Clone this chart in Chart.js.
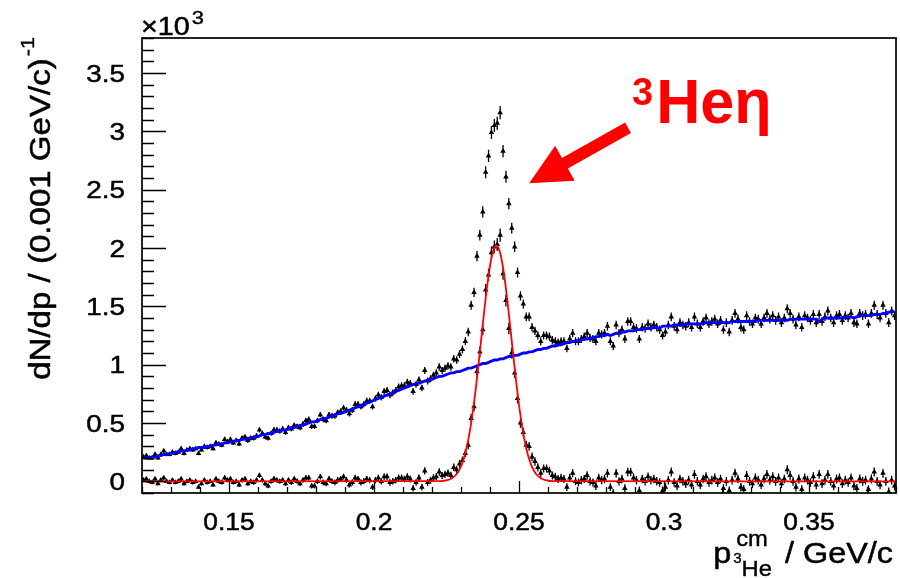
<!DOCTYPE html>
<html>
<head>
<meta charset="utf-8">
<script src="https://cdn.jsdelivr.net/npm/chart.js@4.4.1/dist/chart.umd.min.js"></script>
<style>
html,body{margin:0;padding:0;background:#fff;}
#wrap{width:900px;height:578px;position:relative;}
canvas{display:block;}
</style>
</head>
<body>
<div id="wrap"><canvas id="c" width="900" height="578"></canvas></div>
<script>
// ---------- DATA (values in units of 10^3 counts per 0.001 GeV/c) ----------
const binLow = 0.120;      // lower edge of first bin (GeV/c)
const binWidth = 0.001;    // bin width (GeV/c)

// measured spectrum (all events)
const totalCounts = [
0.21,0.22,0.20,0.20,0.23,0.20,0.23,0.26,0.23,0.23,
0.25,0.24,0.25,0.28,0.24,0.27,0.28,0.27,0.28,0.24,
0.27,0.30,0.29,0.30,0.28,0.33,0.32,0.31,0.36,0.34,
0.36,0.33,0.35,0.32,0.37,0.38,0.35,0.37,0.37,0.39,
0.44,0.41,0.38,0.37,0.41,0.44,0.44,0.43,0.45,0.42,
0.46,0.45,0.48,0.47,0.46,0.49,0.52,0.53,0.47,0.47,
0.52,0.57,0.53,0.52,0.57,0.56,0.56,0.59,0.60,0.63,
0.61,0.58,0.61,0.66,0.66,0.64,0.66,0.69,0.69,0.64,
0.71,0.74,0.72,0.77,0.78,0.74,0.76,0.78,0.81,0.82,
0.82,0.85,0.84,0.77,0.83,0.87,0.80,0.95,0.86,0.88,
0.91,0.93,0.98,0.95,0.97,0.99,0.98,1.05,1.04,1.09,
1.13,1.20,1.28,1.51,1.62,1.93,2.11,2.31,2.65,2.79,
2.99,3.05,3.07,3.16,2.83,2.61,2.38,2.17,2.01,1.79,
1.59,1.52,1.41,1.41,1.32,1.29,1.25,1.20,1.25,1.25,
1.24,1.21,1.20,1.19,1.20,1.20,1.14,1.22,1.27,1.20,
1.20,1.22,1.24,1.27,1.23,1.22,1.20,1.27,1.26,1.27,
1.33,1.20,1.16,1.34,1.27,1.30,1.22,1.37,1.37,1.32,
1.31,1.22,1.32,1.31,1.35,1.32,1.34,1.32,1.30,1.25,
1.28,1.34,1.41,1.33,1.30,1.36,1.34,1.33,1.36,1.32,
1.41,1.35,1.32,1.37,1.40,1.35,1.37,1.39,1.35,1.38,
1.30,1.36,1.28,1.38,1.44,1.39,1.32,1.30,1.42,1.37,
1.35,1.40,1.39,1.35,1.40,1.44,1.39,1.42,1.38,1.41,
1.36,1.40,1.48,1.44,1.39,1.34,1.41,1.32,1.42,1.40,
1.38,1.43,1.36,1.43,1.37,1.41,1.46,1.40,1.36,1.42,
1.43,1.38,1.42,1.40,1.44,1.36,1.35,1.44,1.42,1.43,
1.35,1.44,1.51,1.43,1.40,1.51,1.44,1.36,1.46,1.42
];

// background-subtracted spectrum
const subtracted = [
0.01,0.02,0.00,-0.01,0.02,-0.02,0.01,0.03,0.00,-0.01,
0.01,-0.01,0.00,0.02,-0.02,0.00,0.01,-0.01,0.00,-0.05,
-0.02,0.01,-0.01,0.00,-0.03,0.02,0.00,-0.01,0.03,0.01,
0.02,-0.01,0.00,-0.03,0.01,0.02,-0.02,0.00,-0.01,0.01,
0.05,0.01,-0.02,-0.04,0.00,0.02,0.01,0.00,0.01,-0.02,
0.01,-0.01,0.02,0.00,-0.02,0.01,0.03,0.03,-0.04,-0.04,
0.00,0.04,-0.01,-0.02,0.02,0.00,-0.01,0.01,0.02,0.04,
0.01,-0.03,-0.01,0.03,0.02,-0.01,0.00,0.02,0.01,-0.05,
0.01,0.03,0.00,0.04,0.04,-0.01,0.00,0.01,0.03,0.03,
0.02,0.04,0.02,-0.06,-0.01,0.03,-0.05,0.09,-0.01,0.01,
0.03,0.04,0.08,0.05,0.06,0.07,0.05,0.12,0.10,0.15,
0.18,0.24,0.31,0.54,0.64,0.94,1.11,1.30,1.64,1.77,
1.96,2.01,2.03,2.11,1.78,1.55,1.31,1.10,0.93,0.71,
0.50,0.42,0.31,0.30,0.21,0.17,0.12,0.07,0.11,0.11,
0.09,0.05,0.04,0.02,0.03,0.02,-0.05,0.03,0.07,0.00,
-0.01,0.01,0.02,0.05,0.00,-0.01,-0.04,0.03,0.01,0.02,
0.07,-0.05,-0.10,0.07,0.00,0.02,-0.06,0.08,0.08,0.03,
0.01,-0.08,0.02,0.00,0.04,0.01,0.02,0.00,-0.01,-0.08,
-0.05,0.01,0.08,-0.01,-0.04,0.02,0.00,-0.02,0.01,-0.03,
0.06,0.00,-0.03,0.02,0.04,-0.01,0.01,0.03,-0.01,0.02,
-0.06,0.00,-0.08,0.01,0.07,0.02,-0.05,-0.07,0.05,0.00,
-0.02,0.03,0.01,-0.03,0.02,0.06,0.01,0.04,0.00,0.03,
-0.02,0.02,0.10,0.05,0.00,-0.05,0.02,-0.07,0.03,0.01,
-0.01,0.04,-0.03,0.06,-0.02,0.01,0.06,0.00,-0.04,0.02,
0.03,-0.02,0.01,-0.01,0.03,-0.04,-0.06,0.02,0.00,0.01,
-0.07,0.02,0.08,0.00,-0.03,0.07,0.00,-0.09,0.01,-0.04
];

// background description (blue curve)
const background = [
0.20,0.20,0.20,0.21,0.21,0.22,0.22,0.23,0.23,0.24,
0.24,0.25,0.25,0.26,0.26,0.27,0.27,0.28,0.28,0.29,
0.29,0.29,0.30,0.30,0.31,0.31,0.32,0.32,0.33,0.33,
0.34,0.34,0.35,0.35,0.36,0.36,0.37,0.37,0.38,0.38,
0.39,0.40,0.40,0.41,0.41,0.42,0.43,0.43,0.44,0.44,
0.45,0.46,0.46,0.47,0.48,0.48,0.49,0.50,0.51,0.51,
0.52,0.53,0.54,0.54,0.55,0.56,0.57,0.58,0.58,0.59,
0.60,0.61,0.62,0.63,0.64,0.65,0.66,0.67,0.68,0.69,
0.70,0.71,0.72,0.73,0.74,0.75,0.76,0.77,0.78,0.79,
0.80,0.81,0.82,0.83,0.84,0.84,0.85,0.86,0.87,0.87,
0.88,0.89,0.90,0.90,0.91,0.92,0.93,0.93,0.94,0.94,
0.95,0.96,0.97,0.97,0.98,0.99,1.00,1.01,1.01,1.02,
1.03,1.04,1.04,1.05,1.05,1.06,1.07,1.07,1.08,1.08,
1.09,1.10,1.10,1.11,1.11,1.12,1.13,1.13,1.14,1.14,
1.15,1.16,1.16,1.17,1.17,1.18,1.19,1.19,1.20,1.20,
1.21,1.21,1.22,1.22,1.23,1.23,1.24,1.24,1.25,1.25,
1.26,1.25,1.26,1.27,1.27,1.28,1.28,1.29,1.29,1.29,
1.30,1.30,1.30,1.31,1.31,1.31,1.32,1.32,1.31,1.33,
1.33,1.33,1.33,1.34,1.34,1.34,1.34,1.35,1.35,1.35,
1.35,1.35,1.35,1.35,1.36,1.36,1.36,1.36,1.36,1.36,
1.36,1.36,1.36,1.37,1.37,1.37,1.37,1.37,1.37,1.37,
1.37,1.37,1.38,1.38,1.38,1.38,1.38,1.38,1.38,1.38,
1.38,1.38,1.38,1.39,1.39,1.39,1.39,1.39,1.39,1.39,
1.39,1.39,1.39,1.37,1.39,1.40,1.40,1.40,1.40,1.40,
1.40,1.40,1.41,1.41,1.41,1.40,1.41,1.42,1.42,1.42,
1.42,1.42,1.43,1.43,1.43,1.44,1.44,1.45,1.45,1.46
];

// Gaussian fit to the subtracted peak (red curve)
const fitX = [0.1200,
0.2222,0.2232,0.2242,0.2252,0.2262,0.2272,0.2282,0.2292,0.2302,0.2312,
0.2322,0.2332,0.2342,0.2352,0.2362,0.2372,0.2382,0.2392,0.2402,0.2412,
0.2422,
0.2432,0.2442,0.2452,0.2462,0.2472,0.2482,0.2492,0.2502,0.2512,0.2522,
0.2532,0.2542,0.2552,0.2562,0.2572,0.2582,0.2592,0.2602,0.2612,0.2622,
0.3800];
const fitY = [0,
0.001,0.002,0.005,0.010,0.018,0.032,0.054,0.089,0.141,0.216,
0.318,0.452,0.619,0.816,1.038,1.272,1.503,1.710,1.876,1.983,
2.020,
1.983,1.876,1.710,1.503,1.272,1.038,0.816,0.619,0.452,0.318,
0.216,0.141,0.089,0.054,0.032,0.018,0.010,0.005,0.002,0.001,
0];

const xTicks = [0.15, 0.2, 0.25, 0.3, 0.35];
const yTicks = [0, 0.5, 1, 1.5, 2, 2.5, 3, 3.5];
const xRange = [0.12, 0.38];
const yRange = [-0.1, 3.8];

// annotation anchor points (data coordinates)
const arrowTail = {x: 0.2876, y: 3.03};
const arrowTip  = {x: 0.2535, y: 2.555};
const peakLabel = {x: 0.2890, y: 3.070};

// ---------- derived ----------
const binCenters = totalCounts.map((_, i) => +(binLow + binWidth * (i + 0.5)).toFixed(4));
const statErr = i => Math.sqrt(Math.max(totalCounts[i], 0) * 1000) / 1000;
const pts = arr => arr.map((v, i) => ({x: binCenters[i], y: v}));

const FONT = '"Liberation Sans", Arial, Helvetica, sans-serif';

function stretchedText(ctx, txt, x, y, size, sx, align, baseline, weight, heavy) {
  ctx.save();
  ctx.font = (weight ? weight + ' ' : '') + size + 'px ' + FONT;
  ctx.textAlign = align || 'left';
  ctx.textBaseline = baseline || 'alphabetic';
  ctx.translate(x, y);
  ctx.scale(sx, 1);
  ctx.fillText(txt, 0, 0);
  if (heavy) {
    ctx.lineWidth = heavy;
    ctx.strokeStyle = ctx.fillStyle;
    ctx.strokeText(txt, 0, 0);
  }
  ctx.restore();
}
function textW(ctx, txt, size, sx, weight) {
  ctx.save();
  ctx.font = (weight ? weight + ' ' : '') + size + 'px ' + FONT;
  const w = ctx.measureText(txt).width * sx;
  ctx.restore();
  return w;
}

const errorBars = {
  id: 'errorBars',
  beforeDatasetsDraw(chart) {
    const {ctx, chartArea: a, scales: {x, y}} = chart;
    ctx.save();
    ctx.beginPath();
    ctx.rect(a.left, a.top, a.right - a.left, a.bottom - a.top);
    ctx.clip();
    ctx.strokeStyle = '#000';
    ctx.lineWidth = 1.3;
    ctx.beginPath();
    [totalCounts, subtracted].forEach(arr => arr.forEach((v, i) => {
      const e = statErr(i);
      const px = x.getPixelForValue(binCenters[i]);
      const py = y.getPixelForValue(v);
      ctx.moveTo(px, y.getPixelForValue(v - e));
      ctx.lineTo(px, y.getPixelForValue(v + e));
      ctx.moveTo(x.getPixelForValue(binCenters[i] - binWidth / 2), py);
      ctx.lineTo(x.getPixelForValue(binCenters[i] + binWidth / 2), py);
    }));
    ctx.stroke();
    ctx.restore();
  }
};

const rootDecor = {
  id: 'rootDecor',
  afterDraw(chart) {
    const {ctx, chartArea: a, scales: {x, y}} = chart;
    ctx.save();
    ctx.fillStyle = '#000';
    ctx.strokeStyle = '#000';

    // ticks
    ctx.lineWidth = 1.3;
    ctx.beginPath();
    const yMinor = (yTicks[1] - yTicks[0]) / 5;
    for (let m = Math.ceil(yRange[0] / yMinor - 1e-6); m * yMinor <= yRange[1] + 1e-6; m++) {
      const v = m * yMinor;
      const isMajor = yTicks.some(t => Math.abs(t - v) < 1e-6);
      const py = Math.round(y.getPixelForValue(v)) + 0.5;
      ctx.moveTo(a.left, py);
      ctx.lineTo(a.left + (isMajor ? 24 : 12), py);
    }
    const xMinor = (xTicks[1] - xTicks[0]) / 5;
    for (let m = Math.ceil(xRange[0] / xMinor - 1e-6); m * xMinor <= xRange[1] + 1e-6; m++) {
      const v = m * xMinor;
      const isMajor = xTicks.some(t => Math.abs(t - v) < 1e-6);
      const px = Math.round(x.getPixelForValue(v)) + 0.5;
      ctx.moveTo(px, a.bottom);
      ctx.lineTo(px, a.bottom - (isMajor ? 12 : 6));
    }
    ctx.stroke();

    // frame
    ctx.lineWidth = 1.7;
    ctx.strokeRect(a.left, a.top, a.right - a.left, a.bottom - a.top);

    // tick labels
    yTicks.forEach(v => {
      stretchedText(ctx, String(v), a.left - 17, y.getPixelForValue(v) + 8.5, 24, 1.16, 'right', 'alphabetic', '', 0.5);
    });
    xTicks.forEach(v => {
      stretchedText(ctx, String(v), x.getPixelForValue(v), 530, 24, 1.1, 'center', 'alphabetic', '', 0.5);
    });

    // exponent label
    stretchedText(ctx, '\u00d710', a.left - 1, 35, 25, 1.15, 'left', 'alphabetic', '', 0.5);
    stretchedText(ctx, '3', a.left + textW(ctx, '\u00d710', 25, 1.15) + 1, 24, 19, 1.15, 'left', 'alphabetic', '', 0.4);

    // y-axis title (rotated, right-aligned to the top)
    const ytMain = 'dN/dp / (0.001 GeV/c)';
    const ytSup = '-1';
    const wMain = textW(ctx, ytMain, 29, 1.14);
    const wSup = textW(ctx, ytSup, 19, 1.14);
    ctx.save();
    ctx.translate(50, 37);
    ctx.rotate(-Math.PI / 2);
    stretchedText(ctx, ytMain, -(wMain + wSup + 2), 0, 29, 1.14, 'left', 'alphabetic', '', 0.5);
    stretchedText(ctx, ytSup, -wSup, -16, 19, 1.14, 'left', 'alphabetic', '', 0.4);
    ctx.restore();

    // x-axis title: p^{cm}_{3He} / GeV/c
    const sxT = 1.08;
    const base = 563;
    const wP = textW(ctx, 'p', 30, sxT);
    const wCm = textW(ctx, 'cm', 22, sxT);
    const w3 = textW(ctx, '3', 14, sxT);
    const wHe = textW(ctx, 'He', 22, sxT);
    const wRest = textW(ctx, ' / GeV/c', 30, sxT);
    const wSub = Math.max(wCm, w3 + wHe);
    let xs = 893 - (wP + 2 + wSub + 4 + wRest);
    stretchedText(ctx, 'p', xs, base, 30, sxT, 'left', 'alphabetic', '', 0.5);
    xs += wP + 2;
    stretchedText(ctx, 'cm', xs + 3, base - 17, 22, sxT, 'left', 'alphabetic', '', 0.4);
    stretchedText(ctx, '3', xs, base + 0, 14, sxT, 'left', 'alphabetic', '', 0.3);
    stretchedText(ctx, 'He', xs + w3, base + 13, 22, sxT, 'left', 'alphabetic', '', 0.4);
    xs += wSub + 4;
    stretchedText(ctx, ' / GeV/c', xs, base, 30, sxT, 'left', 'alphabetic', '', 0.5);

    // red arrow
    const tx = x.getPixelForValue(arrowTail.x), ty = y.getPixelForValue(arrowTail.y);
    const hx = x.getPixelForValue(arrowTip.x), hy = y.getPixelForValue(arrowTip.y);
    const len = Math.hypot(hx - tx, hy - ty);
    const ux = (hx - tx) / len, uy = (hy - ty) / len;
    const nx = -uy, ny = ux;
    const headL = 41, headW = 20, shaftW = 6;
    const bx = hx - ux * headL, by = hy - uy * headL;
    ctx.fillStyle = '#ff0000';
    ctx.beginPath();
    ctx.moveTo(tx + nx * shaftW, ty + ny * shaftW);
    ctx.lineTo(bx + nx * shaftW, by + ny * shaftW);
    ctx.lineTo(bx + nx * headW, by + ny * headW);
    ctx.lineTo(hx, hy);
    ctx.lineTo(bx - nx * headW, by - ny * headW);
    ctx.lineTo(bx - nx * shaftW, by - ny * shaftW);
    ctx.lineTo(tx - nx * shaftW, ty - ny * shaftW);
    ctx.closePath();
    ctx.fill();

    // peak label ³Heη
    const lx = x.getPixelForValue(peakLabel.x), ly = y.getPixelForValue(peakLabel.y);
    stretchedText(ctx, '3', lx, ly - 18, 38, 1.0, 'left', 'alphabetic', 'bold');
    const w3b = textW(ctx, '3', 38, 1.0, 'bold');
    stretchedText(ctx, 'He\u03b7', lx + w3b + 3, ly, 63, 0.97, 'left', 'alphabetic', 'bold');

    ctx.restore();
  }
};

const ctx = document.getElementById('c').getContext('2d');
new Chart(ctx, {
  type: 'scatter',
  data: {
    datasets: [
      {
        label: 'background',
        type: 'line',
        data: pts(background),
        borderColor: '#0000ff',
        borderWidth: 2.8,
        pointRadius: 0,
        tension: 0,
        fill: false,
        order: 1
      },
      {
        label: 'fit',
        type: 'line',
        data: fitX.map((v, i) => ({x: v, y: fitY[i]})),
        borderColor: '#ff0000',
        borderWidth: 1.8,
        pointRadius: 0,
        cubicInterpolationMode: 'monotone',
        fill: false,
        order: 0
      },
      {
        label: 'all events',
        data: pts(totalCounts),
        pointStyle: 'triangle',
        pointRadius: 3.2,
        pointBackgroundColor: '#000',
        pointBorderWidth: 0,
        showLine: false,
        order: 2
      },
      {
        label: 'background subtracted',
        data: pts(subtracted),
        pointStyle: 'triangle',
        pointRadius: 3.2,
        pointBackgroundColor: '#000',
        pointBorderWidth: 0,
        showLine: false,
        order: 2
      }
    ]
  },
  options: {
    responsive: false,
    devicePixelRatio: 1,
    animation: false,
    layout: {padding: {top: 38, right: 4, left: 0, bottom: 0}},
    plugins: {legend: {display: false}, tooltip: {enabled: false}},
    scales: {
      x: {
        type: 'linear',
        min: xRange[0], max: xRange[1],
        afterBuildTicks: s => { s.ticks = xTicks.map(v => ({value: v})); },
        afterFit: s => { s.height = 85; },
        ticks: {display: false},
        grid: {display: false},
        border: {display: false}
      },
      y: {
        type: 'linear',
        min: yRange[0], max: yRange[1],
        afterBuildTicks: s => { s.ticks = yTicks.map(v => ({value: v})); },
        afterFit: s => { s.width = 142; },
        ticks: {display: false},
        grid: {display: false},
        border: {display: false}
      }
    }
  },
  plugins: [errorBars, rootDecor]
});
</script>
</body>
</html>
